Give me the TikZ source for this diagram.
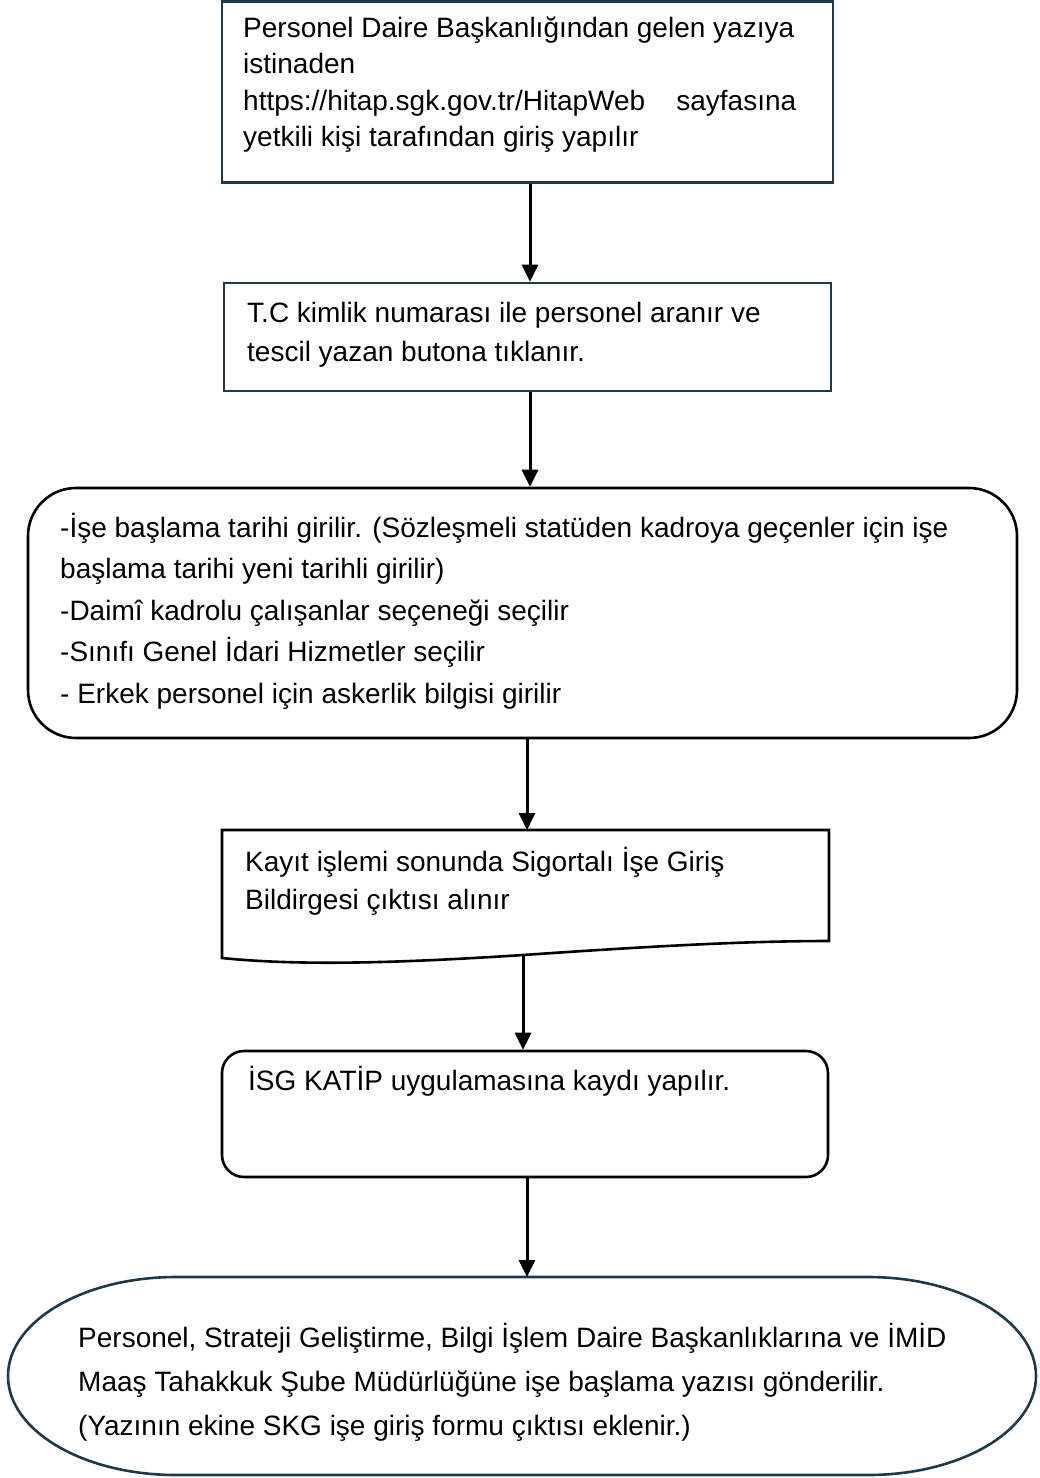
\documentclass[tikz,border=0pt]{standalone}
\usepackage{fontspec}
\setmainfont{Liberation Sans}
\usetikzlibrary{arrows.meta}
\definecolor{slate}{RGB}{31,57,74}
\tikzset{
  slatebox/.style={draw=slate, line width=2.6pt, inner sep=0pt},
  blackbox/.style={draw=black, line width=2.6pt, inner sep=0pt},
  txt/.style={font=\fontsize{28}{#1}\selectfont, align=left, inner sep=0pt, anchor=base west},
  arr/.style={line width=3pt, -{Triangle[width=16pt,length=17pt]}}
}
\begin{document}
\begin{tikzpicture}[x=1pt,y=1pt]
\useasboundingbox (0,0) rectangle (1039,-1478);
% box 1
\node[slatebox, minimum width=611pt, minimum height=181pt] (b1) at (527.5,-92) {};
\node[txt=36.5] (t1) at (243,-146.5) {Personel Daire Başkanlığından gelen yazıya\\istinaden\\https://hitap.sgk.gov.tr/HitapWeb~~~ sayfasına\\yetkili kişi tarafından giriş yapılır};
% box 2
\node[slatebox, minimum width=607pt, minimum height=108pt] (b2) at (527.5,-337) {};
\node[txt=39] (t2) at (247,-361) {T.C kimlik numarası ile personel aranır ve\\tescil yazan butona tıklanır.};
% box 3
\node[blackbox, rounded corners=48pt, minimum width=989pt, minimum height=250pt] (b3) at (522.5,-613) {};
\node[txt=41.5] (t3) at (60,-703) {-İşe başlama tarihi girilir. (Sözleşmeli statüden kadroya geçenler için işe\\başlama tarihi yeni tarihli girilir)\\-Daimî kadrolu çalışanlar seçeneği seçilir\\-Sınıfı Genel İdari Hizmetler seçilir\\- Erkek personel için askerlik bilgisi girilir};
% box 4 (document)
\coordinate (b4top) at (527,-830);
\coordinate (b4bot) at (523,-955);
\draw[black, line width=2.6pt, line join=miter] (222,-830) -- (829,-830) -- (829,-941)
  .. controls (740,-941) and (640,-947) .. (b4bot)
  .. controls (400,-963) and (300,-966) .. (222,-958) -- cycle;
\node[txt=38] (t4) at (245,-909) {Kayıt işlemi sonunda Sigortalı İşe Giriş\\Bildirgesi çıktısı alınır};
% box 5
\node[blackbox, rounded corners=22pt, minimum width=606pt, minimum height=126pt] (b5) at (525,-1114) {};
\node[txt=38] (t5) at (248,-1090) {İSG KATİP uygulamasına kaydı yapılır.};
% box 6
\coordinate (b6top) at (527,-1277);
\draw[slate, line width=2.6pt] (176,-1277) -- (868,-1277)
  arc[start angle=90, end angle=-90, x radius=168, y radius=99]
  -- (176,-1475)
  arc[start angle=270, end angle=90, x radius=168, y radius=99] -- cycle;
\node[txt=44] (t6) at (78,-1435) {Personel, Strateji Geliştirme, Bilgi İşlem Daire Başkanlıklarına ve İMİD\\Maaş Tahakkuk Şube Müdürlüğüne işe başlama yazısı gönderilir.\\(Yazının ekine SKG işe giriş formu çıktısı eklenir.)};
% arrows
\draw[arr] ([xshift=2.5pt]b1.south) -- ([xshift=2.5pt]b2.north);
\draw[arr] ([xshift=2.5pt]b2.south) -- ([xshift=7.5pt]b3.north);
\draw[arr] ([xshift=4.5pt]b3.south) -- (b4top);
\draw[arr] (b4bot) -- ([xshift=-2pt]b5.north);
\draw[arr] ([xshift=2pt]b5.south) -- (b6top);
\end{tikzpicture}
\end{document}
